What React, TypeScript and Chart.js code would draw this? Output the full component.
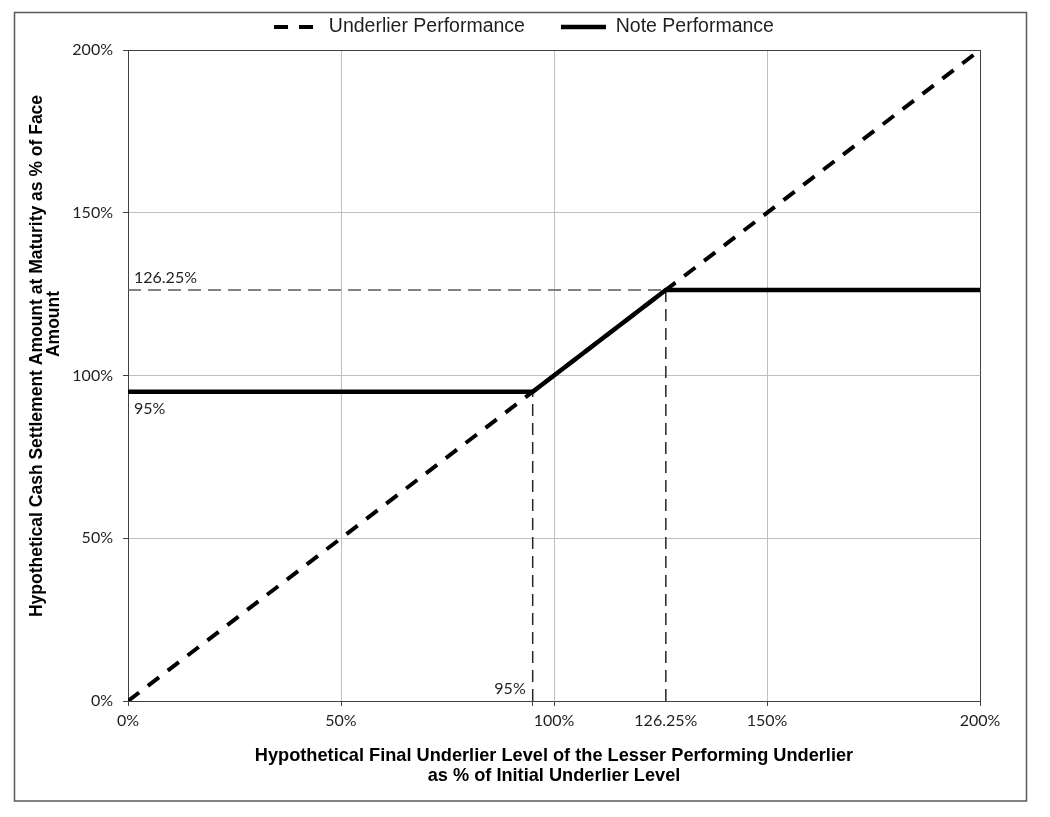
import React, { useEffect, useRef } from 'react';
import { Chart, registerables } from 'chart.js';

Chart.register(...registerables);

// ---- data ----
const seriesNames = ['Underlier Performance', 'Note Performance'];
const underlierX = [0, 200];
const underlierY = [0, 200];
const noteX = [0, 95, 126.25, 200];
const noteY = [95, 95, 126.25, 126.25];
const capLevelX = [0, 126.25];
const capLevelY = [126.25, 126.25];
const capDropX = [126.25, 126.25];
const capDropY = [0, 126.25];
const floorDropX = [95, 95];
const floorDropY = [0, 95];

const xTickValues = [0, 50, 95, 100, 126.25, 150, 200];
const xTickLabels = ['0%', '50%', '', '100%', '126.25%', '150%', '200%'];
const xGridValues = [50, 100, 150];
const yTickValues = [0, 50, 100, 150, 200];
const yTickLabels = ['0%', '50%', '100%', '150%', '200%'];
const yGridValues = [50, 100, 150];

const annotationTexts = ['126.25%', '95%', '95%'];
const annotationX = [0, 0, 95];
const annotationY = [126.25, 95, 0];

const xTitleLines = [
  'Hypothetical Final Underlier Level of the Lesser Performing Underlier',
  'as % of Initial Underlier Level',
];
const yTitleLines = [
  'Hypothetical Cash Settlement Amount at Maturity as % of Face',
  'Amount',
];

const pts = (xs: number[], ys: number[]) => xs.map((x, i) => ({ x, y: ys[i] }));

const SANS = '"Liberation Sans", Arial, sans-serif';
const TICK_FONT = { family: 'Lato', size: 16 };
const TEXT_COLOR = '#1f1f1f';
const AXIS_COLOR = '#404040';
const GRID_COLOR = '#c0c0c0';
const LEGEND_PAD = 36;
const LEGEND_FONT = 19.5;

export default function App() {
  const canvasRef = useRef<HTMLCanvasElement | null>(null);

  useEffect(() => {
    const canvas = canvasRef.current;
    if (!canvas) return;

    const layoutPlugin = {
      id: 'layoutFix',
      beforeLayout(chart: any) {
        const lg = chart.legend;
        if (lg && !lg.__patched) {
          const orig = lg.fit;
          lg.fit = function () {
            orig.call(this);
            this.height = 44;
          };
          lg.__patched = true;
        }
      },
      afterLayout(chart: any) {
        const lg = chart.legend;
        if (lg) {
          lg.left = 14;
          lg.right = 1034;
          lg.top = 27 - LEGEND_PAD - LEGEND_FONT / 2;
          lg.bottom = 49;
        }
      },
    };

    const decorPlugin = {
      id: 'decor',
      beforeDraw(chart: any) {
        const ctx = chart.ctx;
        ctx.save();
        ctx.fillStyle = '#ffffff';
        ctx.fillRect(0, 0, chart.width, chart.height);
        ctx.strokeStyle = '#595959';
        ctx.lineWidth = 1.5;
        ctx.strokeRect(14.5, 12.5, 1012, 788.5);
        ctx.restore();
      },
      beforeDatasetsDraw(chart: any) {
        const ctx = chart.ctx;
        const a = chart.chartArea;
        ctx.save();
        ctx.strokeStyle = AXIS_COLOR;
        ctx.lineWidth = 1;
        ctx.beginPath();
        ctx.moveTo(a.left, Math.round(a.top) + 0.5);
        ctx.lineTo(a.right, Math.round(a.top) + 0.5);
        ctx.moveTo(Math.round(a.right) + 0.5, a.top);
        ctx.lineTo(Math.round(a.right) + 0.5, a.bottom);
        ctx.stroke();
        ctx.restore();
      },
      afterDraw(chart: any) {
        const ctx = chart.ctx;
        const xs = chart.scales.x;
        const ys = chart.scales.y;
        ctx.save();
        // annotations
        ctx.fillStyle = TEXT_COLOR;
        ctx.font = '16px Lato';
        ctx.textBaseline = 'middle';
        const offs = [
          { dx: 6, dy: -12, align: 'left' },
          { dx: 6, dy: 17, align: 'left' },
          { dx: -7, dy: -12, align: 'right' },
        ];
        annotationTexts.forEach((t, i) => {
          const px = xs.getPixelForValue(annotationX[i]) + offs[i].dx;
          const py = ys.getPixelForValue(annotationY[i]) + offs[i].dy;
          ctx.textAlign = offs[i].align;
          ctx.fillText(t, px, py);
        });
        // y axis title
        ctx.font = `bold 17.5px ${SANS}`;
        ctx.fillStyle = '#000';
        ctx.textAlign = 'center';
        const titlePos = [
          { x: 37, y: 356 },
          { x: 54.5, y: 324 },
        ];
        yTitleLines.forEach((line, i) => {
          ctx.save();
          ctx.translate(titlePos[i].x, titlePos[i].y);
          ctx.rotate(-Math.PI / 2);
          ctx.fillText(line, 0, 0);
          ctx.restore();
        });
        ctx.restore();
      },
    };

    const chart = new Chart(canvas, {
      type: 'line',
      data: {
        datasets: [
          {
            label: seriesNames[0],
            data: pts(underlierX, underlierY),
            borderColor: '#000',
            borderWidth: 4,
            borderDash: [14, 11],
            pointRadius: 0,
            fill: false,
          },
          {
            label: seriesNames[1],
            data: pts(noteX, noteY),
            borderColor: '#000',
            borderWidth: 4.5,
            pointRadius: 0,
            fill: false,
          },
          {
            label: 'cap-level',
            data: pts(capLevelX, capLevelY),
            borderColor: '#5a5a5a',
            borderWidth: 1.5,
            borderDash: [13, 7],
            pointRadius: 0,
            fill: false,
          },
          {
            label: 'cap-drop',
            data: pts(capDropX, capDropY),
            borderColor: '#262626',
            borderWidth: 1.5,
            borderDash: [12, 7],
            pointRadius: 0,
            fill: false,
          },
          {
            label: 'floor-drop',
            data: pts(floorDropX, floorDropY),
            borderColor: '#262626',
            borderWidth: 1.5,
            borderDash: [12, 7],
            pointRadius: 0,
            fill: false,
          },
        ],
      },
      options: {
        animation: false,
        responsive: false,
        maintainAspectRatio: false,
        devicePixelRatio: 1,
        layout: { padding: { left: 14, right: 70, top: 6, bottom: 20 } },
        plugins: {
          tooltip: { enabled: false },
          legend: {
            display: true,
            position: 'top',
            labels: {
              color: TEXT_COLOR,
              font: { family: SANS, size: LEGEND_FONT },
              usePointStyle: true,
              pointStyle: 'line',
              pointStyleWidth: 45,
              padding: LEGEND_PAD,
              filter: (item: any) => item.datasetIndex < 2,
              generateLabels: (c: any) => {
                const items = Chart.defaults.plugins.legend.labels.generateLabels(c);
                return items.map((it: any) => {
                  const ds: any = c.data.datasets[it.datasetIndex];
                  return {
                    ...it,
                    pointStyle: 'line',
                    lineWidth: ds.borderWidth,
                    lineDash: ds.borderDash || [],
                    strokeStyle: ds.borderColor,
                    fillStyle: ds.borderColor,
                  };
                });
              },
            },
          },
        },
        scales: {
          x: {
            type: 'linear',
            min: 0,
            max: 200,
            afterBuildTicks: (s: any) => {
              s.ticks = xTickValues.map((v) => ({ value: v }));
            },
            afterFit: (s: any) => {
              s.height = 96;
            },
            ticks: {
              autoSkip: false,
              maxRotation: 0,
              padding: 5,
              color: TEXT_COLOR,
              font: TICK_FONT,
              callback: (_v: any, i: number) => xTickLabels[i],
            },
            grid: {
              color: (c: any) => (xGridValues.includes(c.tick?.value) ? GRID_COLOR : 'rgba(0,0,0,0)'),
              tickColor: (c: any) => (c.tick?.value === 126.25 ? 'rgba(0,0,0,0)' : AXIS_COLOR),
              tickLength: 5,
            },
            border: { display: true, color: AXIS_COLOR, width: 1 },
            title: {
              display: true,
              text: xTitleLines,
              color: '#000',
              font: { family: SANS, size: 18.2, weight: 'bold', lineHeight: 1.1 },
              padding: { top: 0, bottom: 11 },
            },
          },
          y: {
            type: 'linear',
            min: 0,
            max: 200,
            afterBuildTicks: (s: any) => {
              s.ticks = yTickValues.map((v) => ({ value: v }));
            },
            afterFit: (s: any) => {
              s.width = 114;
            },
            ticks: {
              autoSkip: false,
              padding: 10,
              color: TEXT_COLOR,
              font: TICK_FONT,
              callback: (_v: any, i: number) => yTickLabels[i],
            },
            grid: {
              color: (c: any) => (yGridValues.includes(c.tick?.value) ? GRID_COLOR : 'rgba(0,0,0,0)'),
              tickColor: AXIS_COLOR,
              tickLength: 5,
            },
            border: { display: true, color: AXIS_COLOR, width: 1 },
            title: { display: false },
          },
        },
      } as any,
      plugins: [layoutPlugin, decorPlugin],
    });

    return () => {
      chart.destroy();
    };
  }, []);

  return (
    <div style={{ position: 'absolute', left: 0, top: 0, width: 1050, height: 817, background: '#fff' }}>
      <canvas ref={canvasRef} width={1050} height={817} style={{ display: 'block', width: 1050, height: 817 }} />
    </div>
  );
}
